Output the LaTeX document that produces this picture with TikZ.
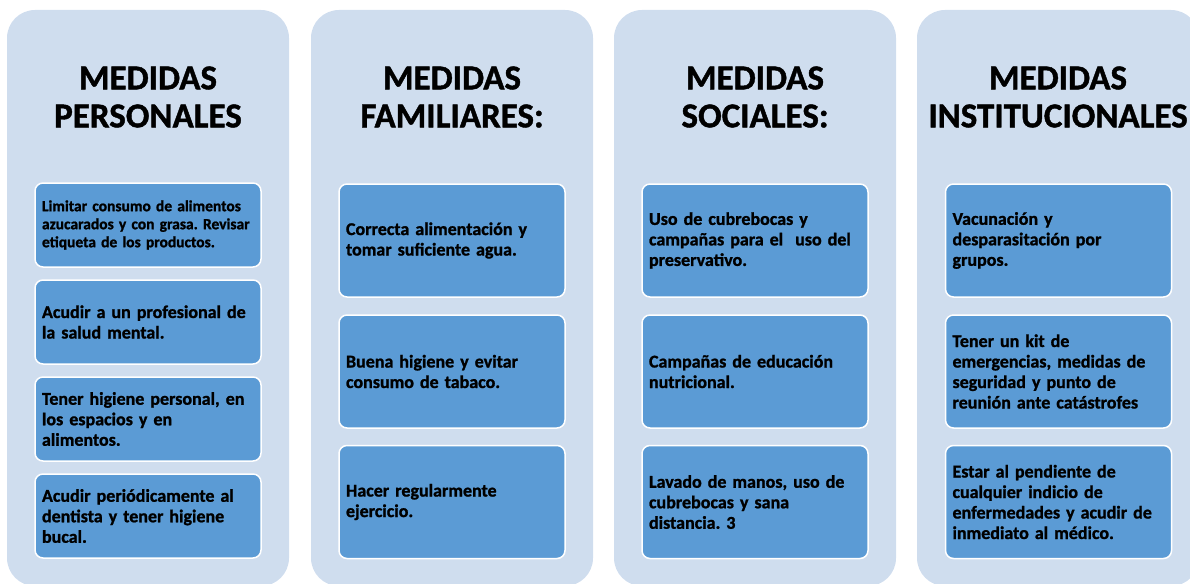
\documentclass[tikz,border=0pt]{standalone}
\usepackage{fontspec}
\setmainfont{Carlito}[BoldFeatures={FakeBold=1.2}]
\frenchspacing
\definecolor{colBack}{RGB}{207,221,238}
\definecolor{boxBlue}{RGB}{91,155,213}
\begin{document}
\begin{tikzpicture}[x=1pt, y=-1pt,
    colStyle/.style={rectangle, rounded corners=28pt, fill=colBack, minimum width=282pt, minimum height=576pt, inner sep=0pt},
    titleStyle/.style={align=center, font=\bfseries\fontsize{35}{38}\selectfont},
    boxStyle/.style={rectangle, rounded corners=8pt, fill=boxBlue, draw=white, line width=1.5pt, text width=212pt, inner xsep=7pt, minimum height=113pt, align=left, font=\bfseries\fontsize{18}{20.5}\selectfont},
    smallBoxStyle/.style={boxStyle, minimum height=84pt}]
    \useasboundingbox (0,0) rectangle (1190,583);

    \node[colStyle](col1) at (148, 298) {};
    \node[colStyle](col2) at (452, 298) {};
    \node[colStyle](col3) at (755, 298) {};
    \node[colStyle](col4) at (1058, 298) {};

    \node[titleStyle](title1) at (148, 97) {MEDIDAS\\PERSONALES};
    \node[titleStyle](title2) at (452, 97) {MEDIDAS\\FAMILIARES:};
    \node[titleStyle](title3) at (755, 97) {MEDIDAS\\SOCIALES:};
    \node[titleStyle](title4) at (1058, 97) {MEDIDAS\\INSTITUCIONALES};

    \node[smallBoxStyle, font=\bfseries\fontsize{15.5}{18}\selectfont](11) at (148, 225) {Limitar consumo de alimentos\\azucarados y con grasa. Revisar\\etiqueta de los productos.};
    \node[smallBoxStyle](12) at (148, 322) {Acudir a un profesional de\\la salud mental.};
    \node[smallBoxStyle](13) at (148, 419) {Tener higiene personal, en\\los espacios y en\\alimentos.};
    \node[smallBoxStyle](14) at (148, 516) {Acudir periódicamente al\\dentista y tener higiene\\bucal.};

    \node[boxStyle](21) at (452, 240.5) {Correcta alimentación y\\tomar suficiente agua.};
    \node[boxStyle](22) at (452, 371.5) {Buena higiene y evitar\\consumo de tabaco.};
    \node[boxStyle](23) at (452, 502) {Hacer regularmente\\ejercicio.};

    \node[boxStyle](31) at (755, 240.5) {Uso de cubrebocas y\\campañas para el \ uso del\\preservativo.};
    \node[boxStyle](32) at (755, 371.5) {Campañas de educación\\nutricional.};
    \node[boxStyle](33) at (755, 502) {Lavado de manos, uso de\\cubrebocas y sana\\distancia. 3};

    \node[boxStyle](41) at (1058.5, 240.5) {Vacunación y\\desparasitación por\\grupos.};
    \node[boxStyle](42) at (1058.5, 371.5) {Tener un kit de\\emergencias, medidas de\\seguridad y punto de\\reunión ante catástrofes};
    \node[boxStyle](43) at (1058.5, 502) {Estar al pendiente de\\cualquier indicio de\\enfermedades y acudir de\\inmediato al médico.};
\end{tikzpicture}
\end{document}
